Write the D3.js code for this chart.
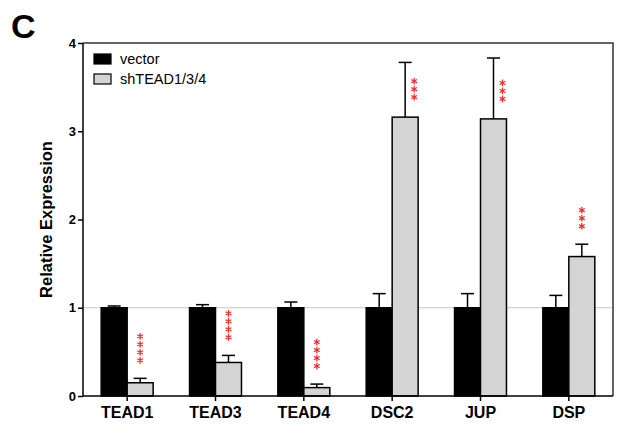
<!DOCTYPE html>
<html>
<head>
<meta charset="utf-8">
<script src="https://cdn.jsdelivr.net/npm/d3@7"></script>
<style>
  body { margin: 0; background: #fff; }
  svg { display: block; font-family: Arial, "Liberation Sans", sans-serif; }
</style>
</head>
<body>
<div id="chart"></div>
<script>
const groups = ["TEAD1", "TEAD3", "TEAD4", "DSC2", "JUP", "DSP"];
const series = ["vector", "shTEAD1/3/4"];
const vectorMean = [1, 1, 1, 1, 1, 1];
const vectorErr = [0.02, 0.035, 0.065, 0.16, 0.16, 0.14];
const shMean = [0.15, 0.38, 0.095, 3.16, 3.14, 1.58];
const shErr = [0.05, 0.08, 0.04, 0.62, 0.69, 0.14];
const stars = [4, 4, 4, 3, 3, 3];
const yTicks = [0, 1, 2, 3, 4];
const fills = ["#000000", "#d4d4d4"];

const width = 621;
const height = 433;
const margin = { top: 43, right: 8, bottom: 37, left: 83 };

const svg = d3
  .select("#chart")
  .append("svg")
  .attr("width", width)
  .attr("height", height);

const x = d3
  .scaleBand()
  .domain(groups)
  .range([margin.left, width - margin.right])
  .padding(0);

const xs = d3
  .scaleBand()
  .domain(series)
  .range([0, x.bandwidth()])
  .paddingInner(0)
  .paddingOuter(0.7);

const y = d3
  .scaleLinear()
  .domain([0, 4])
  .range([height - margin.bottom, margin.top]);

const rows = groups.flatMap((g, i) => [
  { group: g, key: series[0], mean: vectorMean[i], err: vectorErr[i], i: 0 },
  { group: g, key: series[1], mean: shMean[i], err: shErr[i], i: 1 },
]);

// panel letter
svg
  .append("text")
  .attr("x", 11)
  .attr("y", 38)
  .attr("font-size", 34)
  .attr("font-weight", "bold")
  .text("C");

// reference line at 1
svg
  .append("line")
  .attr("x1", margin.left)
  .attr("x2", width - margin.right)
  .attr("y1", y(1))
  .attr("y2", y(1))
  .attr("stroke", "#c8c8c8")
  .attr("stroke-width", 1);

// frame top / right
svg
  .append("path")
  .attr(
    "d",
    `M${margin.left},${margin.top}H${width - margin.right}V${height - margin.bottom}`
  )
  .attr("fill", "none")
  .attr("stroke", "#333")
  .attr("stroke-width", 1.5);

// error bars (upper only)
const capW = 13;
const err = svg.append("g").attr("stroke", "#000").attr("stroke-width", 1.5);
rows.forEach((d) => {
  const cx = x(d.group) + xs(d.key) + xs.bandwidth() / 2;
  err
    .append("line")
    .attr("x1", cx)
    .attr("x2", cx)
    .attr("y1", y(d.mean))
    .attr("y2", y(d.mean + d.err));
  err
    .append("line")
    .attr("x1", cx - capW / 2)
    .attr("x2", cx + capW / 2)
    .attr("y1", y(d.mean + d.err))
    .attr("y2", y(d.mean + d.err));
});

// bars
svg
  .append("g")
  .selectAll("rect")
  .data(rows)
  .join("rect")
  .attr("x", (d) => x(d.group) + xs(d.key))
  .attr("y", (d) => y(d.mean))
  .attr("width", xs.bandwidth())
  .attr("height", (d) => y(0) - y(d.mean))
  .attr("fill", (d) => fills[d.i])
  .attr("stroke", "#000")
  .attr("stroke-width", 1.5);

// significance stars
const starGap = 8;
const symType = d3.symbolAsterisk || d3.symbolCross;
const starSym = d3.symbol().type(symType).size(30);
const starG = svg
  .append("g")
  .attr("stroke", "#ff2a2a")
  .attr("fill", "#ff2a2a")
  .attr("stroke-width", 1.3);
groups.forEach((g, i) => {
  const cx = x(g) + xs(series[1]) + xs.bandwidth() / 2;
  let base = y(shMean[i] + shErr[i]) - 18;
  let sx = cx;
  // no room above the whisker: put stars beside it
  if (base - (stars[i] - 1) * starGap < margin.top + 10) {
    base = y(shMean[i]) - 20;
    sx = cx + 9;
  }
  for (let k = 0; k < stars[i]; k++) {
    starG
      .append("path")
      .attr("d", starSym())
      .attr("transform", `translate(${sx},${base - k * starGap})`);
  }
});

// y axis
const yAxis = svg
  .append("g")
  .attr("transform", `translate(${margin.left},0)`)
  .call(d3.axisLeft(y).tickValues(yTicks).tickFormat(d3.format("d")).tickSize(5).tickPadding(2));
yAxis.select(".domain").attr("stroke", "#000").attr("stroke-width", 1.5).attr("d", `M0,${y(4)}V${y(0)}`);
yAxis.selectAll(".tick line").attr("stroke-width", 1.5);
yAxis
  .selectAll(".tick text")
  .attr("font-size", 13)
  .attr("font-weight", "bold")
  .attr("font-family", "Arial, 'Liberation Sans', sans-serif")
  .attr("fill", "#000");

// x axis
const xAxis = svg
  .append("g")
  .attr("transform", `translate(0,${y(0)})`)
  .call(d3.axisBottom(x).tickSize(5).tickPadding(6));
xAxis.select(".domain").attr("stroke", "#000").attr("stroke-width", 1.5).attr("d", `M${margin.left},0H${width - margin.right}`);
xAxis.selectAll(".tick line").attr("stroke-width", 1.5);
xAxis
  .selectAll(".tick text")
  .attr("font-size", 16)
  .attr("font-weight", "bold")
  .attr("font-family", "Arial, 'Liberation Sans', sans-serif")
  .attr("fill", "#000");

// y label
svg
  .append("text")
  .attr("transform", `translate(52,${(y(0) + y(4)) / 2}) rotate(-90)`)
  .attr("text-anchor", "middle")
  .attr("font-size", 16.5)
  .attr("font-weight", "bold")
  .text("Relative Expression");

// legend
const legend = svg.append("g").attr("transform", "translate(94,54)");
series.forEach((s, i) => {
  legend
    .append("rect")
    .attr("x", 0)
    .attr("y", i * 20)
    .attr("width", 17)
    .attr("height", 10)
    .attr("fill", fills[i])
    .attr("stroke", "#000")
    .attr("stroke-width", 1.2);
  legend
    .append("text")
    .attr("x", 26)
    .attr("y", i * 20 + 10)
    .attr("font-size", 14.5)
    .text(s);
});
</script>
</body>
</html>
